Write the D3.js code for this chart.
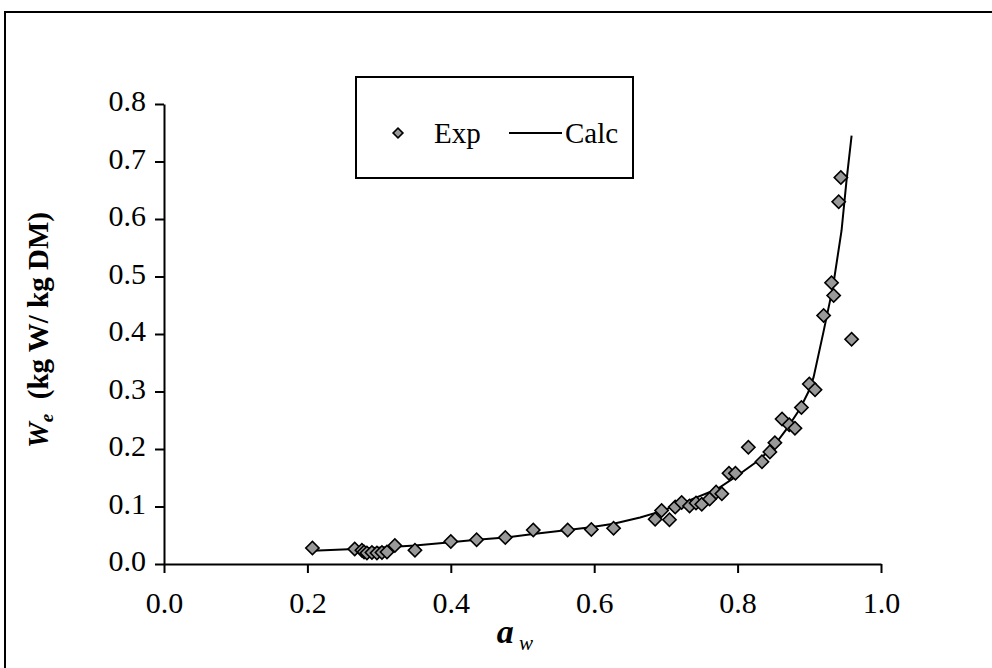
<!DOCTYPE html>
<html><head><meta charset="utf-8">
<script src="https://cdn.jsdelivr.net/npm/d3@7"></script>
<style>html,body{margin:0;padding:0;background:#fff;}svg{display:block;}</style>
</head><body>
<svg id="chart" width="992" height="668"></svg>
<script>
// Experimental points
const expAw = [0.207,0.266,0.276,0.279,0.283,0.290,0.297,0.304,0.311,0.322,0.350,
  0.400,0.436,0.476,0.515,0.563,0.596,0.627,
  0.685,0.694,0.705,0.713,0.722,0.733,0.742,0.750,0.761,0.770,0.778,0.788,0.797,
  0.815,0.834,0.845,0.852,0.862,0.872,0.880,0.889,0.900,0.908,0.920,0.931,0.934,0.941,0.944,0.959];
const expWe = [0.028,0.026,0.024,0.021,0.019,0.020,0.019,0.020,0.021,0.032,0.024,
  0.039,0.042,0.046,0.059,0.059,0.060,0.062,
  0.078,0.093,0.077,0.099,0.107,0.101,0.106,0.104,0.113,0.125,0.122,0.158,0.158,
  0.203,0.178,0.195,0.211,0.252,0.242,0.236,0.272,0.313,0.303,0.432,0.489,0.467,0.630,0.672,0.391];
// Calculated curve
const calcAw = [0.207,0.266,0.310,0.350,0.400,0.436,0.476,0.515,0.563,0.595,0.627,0.664,0.694,0.729,0.771,0.799,0.829,0.850,0.868,0.887,0.899,0.906,0.920,0.933,0.945,0.952,0.959];
const calcWe = [0.023,0.026,0.029,0.032,0.038,0.042,0.046,0.052,0.059,0.064,0.070,0.081,0.092,0.109,0.130,0.153,0.180,0.204,0.234,0.270,0.300,0.325,0.405,0.482,0.580,0.668,0.745];
const xTicks = [0.0,0.2,0.4,0.6,0.8,1.0];
const yTicks = [0.0,0.1,0.2,0.3,0.4,0.5,0.6,0.7,0.8];
const legendLabels = ["Exp","Calc"];

const svg = d3.select("#chart");
const FONT = "'Liberation Serif','Times New Roman',serif";
const x = d3.scaleLinear().domain([0,1]).range([164,881]);
const y = d3.scaleLinear().domain([0,0.8]).range([564,104]);

// outer frame
svg.append("rect").attr("x",5).attr("y",12).attr("width",1000).attr("height",700)
  .attr("fill","none").attr("stroke","#000").attr("stroke-width",2);

// axes
const xAxis = svg.append("g").attr("transform","translate(0,564)")
  .call(d3.axisBottom(x).tickValues(xTicks).tickSize(9).tickSizeOuter(0).tickFormat(d3.format(".1f")));
const yAxis = svg.append("g").attr("transform","translate(164,0)")
  .call(d3.axisLeft(y).tickValues(yTicks).tickSize(9).tickSizeOuter(0).tickFormat(d3.format(".1f")));
[xAxis,yAxis].forEach(g=>{
  g.select(".domain").attr("stroke","#000").attr("stroke-width",2);
  g.selectAll(".tick line").attr("stroke","#000").attr("stroke-width",2);
  g.selectAll(".tick text").attr("font-family",FONT).attr("font-size",30).attr("fill","#000");
});
xAxis.selectAll(".tick text").attr("dy",0).attr("y",42).attr("dominant-baseline","middle");
yAxis.selectAll(".tick text").attr("x",-18).attr("dy",0).attr("dominant-baseline","middle");

// calc line
svg.append("path").datum(calcAw.map((a,i)=>[a,calcWe[i]]))
  .attr("fill","none").attr("stroke","#000").attr("stroke-width",2)
  .attr("d",d3.line().x(d=>x(d[0])).y(d=>y(d[1])));

// exp diamonds
const diamond = d3.symbol().type(d3.symbolSquare).size(88);
svg.append("g").selectAll("path").data(expAw.map((a,i)=>[a,expWe[i]])).join("path")
  .attr("d",diamond)
  .attr("transform",d=>`translate(${x(d[0])},${y(d[1])}) rotate(45)`)
  .attr("fill","#999").attr("stroke","#000").attr("stroke-width",1.6);

// legend
const lg = svg.append("g");
lg.append("rect").attr("x",356).attr("y",77).attr("width",277).attr("height",101)
  .attr("fill","#fff").attr("stroke","#000").attr("stroke-width",2);
lg.append("path").attr("d",d3.symbol().type(d3.symbolSquare).size(48))
  .attr("transform","translate(398,133) rotate(45)")
  .attr("fill","#999").attr("stroke","#000").attr("stroke-width",1.6);
lg.append("text").attr("x",434).attr("y",143).text(legendLabels[0])
  .attr("font-family",FONT).attr("font-size",29);
lg.append("line").attr("x1",509).attr("x2",562).attr("y1",133).attr("y2",133)
  .attr("stroke","#000").attr("stroke-width",2);
lg.append("text").attr("x",565).attr("y",143).text(legendLabels[1])
  .attr("font-family",FONT).attr("font-size",29);

// axis titles
const xt = svg.append("text").attr("x",515).attr("y",643).attr("text-anchor","middle")
  .attr("font-family",FONT);
xt.append("tspan").text("a").attr("font-weight","bold").attr("font-style","italic").attr("font-size",34);
xt.append("tspan").text(" w").attr("font-style","italic").attr("font-size",21).attr("dy",7);

const yt = svg.append("text").attr("transform","translate(48,330) rotate(-90)")
  .attr("text-anchor","middle").attr("font-family",FONT).attr("font-weight","bold").attr("font-size",29);
yt.append("tspan").text("W").attr("font-style","italic");
yt.append("tspan").text("e").attr("font-style","italic").attr("font-size",19).attr("dy",5);
yt.append("tspan").text("\u00a0\u00a0(kg W/ kg DM)").attr("dy",-5);
</script>
</body></html>
